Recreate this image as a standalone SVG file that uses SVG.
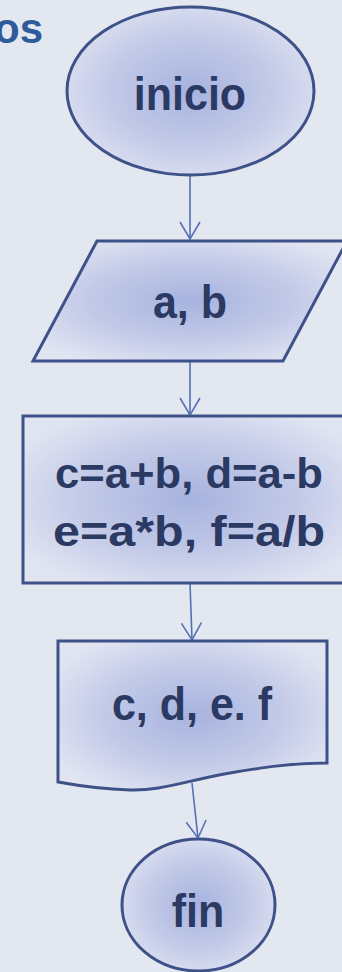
<svg xmlns="http://www.w3.org/2000/svg" width="342" height="972" viewBox="0 0 342 972">
<defs>
<radialGradient id="g" cx="0.5" cy="0.5" r="0.6">
<stop offset="0" stop-color="#a7b3df"/>
<stop offset="0.55" stop-color="#c3cae8"/>
<stop offset="1" stop-color="#e1e5f2"/>
</radialGradient>
<marker id="arr" viewBox="0 0 20 24" refX="18" refY="12" markerWidth="20" markerHeight="24" markerUnits="userSpaceOnUse" orient="auto">
<path d="M1,2 L18,12 L1,22" fill="none" stroke="#5670b5" stroke-width="1.6"/>
</marker>
<style>
.shape{fill:url(#g);stroke:#3f5189;stroke-width:3;stroke-linejoin:miter}
.lbl{font-family:"Liberation Sans",Arial,sans-serif;font-weight:bold;font-size:43px;fill:#2b3a63;text-anchor:middle}
.conn{fill:none;stroke:#5670b5;stroke-width:1.6}
</style>
</defs>
<rect width="342" height="972" fill="#e3e8f0"/>
<text x="43" y="43" font-family="'Liberation Sans',Arial,sans-serif" font-weight="bold" font-size="42" fill="#2f5b9c" text-anchor="end">os</text>
<g id="connectors">
<line class="conn" x1="190" y1="175" x2="190" y2="239" marker-end="url(#arr)"/>
<line class="conn" x1="190" y1="361" x2="190" y2="415" marker-end="url(#arr)"/>
<line class="conn" x1="190" y1="583" x2="192" y2="640" marker-end="url(#arr)"/>
<line class="conn" x1="192" y1="783" x2="198" y2="838" marker-end="url(#arr)"/>
</g>
<g id="inicio">
<ellipse class="shape" cx="190.5" cy="91" rx="123.5" ry="84" stroke-width="2.6"/>
<text class="lbl" x="190" y="110" transform="translate(0,110) scale(1,1.08) translate(0,-110)">inicio</text>
</g>
<g id="entrada">
<polygon class="shape" points="97,241 347,241 283,361 33,361"/>
<text class="lbl" x="190" y="318" transform="translate(0,318) scale(1,1.08) translate(0,-318)">a, b</text>
</g>
<g id="proceso">
<rect class="shape" x="23" y="416" width="333" height="167"/>
<text class="lbl" x="189" y="488" textLength="268" lengthAdjust="spacingAndGlyphs">c=a+b, d=a-b</text>
<text class="lbl" x="189" y="546" textLength="272" lengthAdjust="spacingAndGlyphs">e=a*b, f=a/b</text>
</g>
<g id="salida">
<path class="shape" d="M58,641 L327,641 L327,763 C290,763 260,768 230,773 C185,781 160,791 130,790 C100,789 80,786 58,782 Z"/>
<text class="lbl" x="192" y="720" transform="translate(0,720) scale(1,1.08) translate(0,-720)">c, d, e. f</text>
</g>
<g id="fin">
<ellipse class="shape" cx="198.5" cy="905" rx="76.5" ry="66" stroke-width="2.6"/>
<text class="lbl" x="198" y="927" transform="translate(0,927) scale(1,1.08) translate(0,-927)">fin</text>
</g>
</svg>
